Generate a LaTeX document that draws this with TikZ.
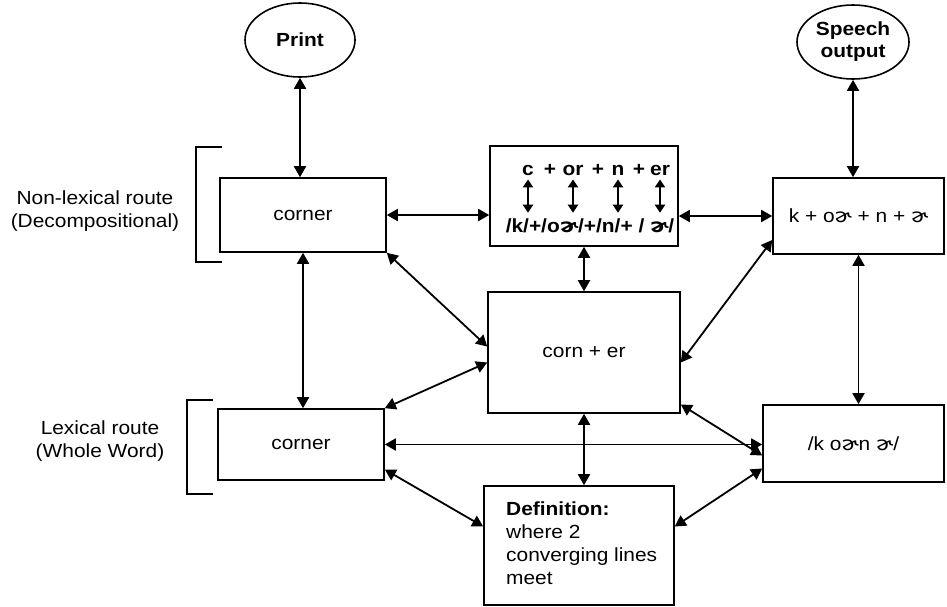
\documentclass[tikz,border=0pt]{standalone}
\usepackage{fontspec}
\setmainfont[FakeStretch=1.1]{Liberation Sans}
\newfontfamily\ipafont[FakeStretch=1.1]{DejaVu Sans}
\usetikzlibrary{arrows.meta,shapes.geometric,calc}
\newcommand\shwa{{\ipafont ɚ}}
\begin{document}
\begin{tikzpicture}[x=1pt,y=-1pt,
  font=\fontsize{19}{23}\selectfont,
  box/.style={draw,line width=1.6pt,inner sep=0pt},
  oval/.style={draw,ellipse,line width=1.6pt,inner sep=0pt,align=center,font=\fontsize{19}{22}\selectfont\bfseries},
  link/.style={line width=1.8pt,{Triangle[length=11pt,width=12pt]}-{Triangle[length=11pt,width=12pt]}},
  minilink/.style={line width=2.2pt,{Triangle[length=8pt,width=10pt]}-{Triangle[length=8pt,width=10pt]}},
  brk/.style={line width=1.6pt},
  lbl/.style={align=center,inner sep=0pt}
]
\useasboundingbox (0,0) rectangle (947,606);
% ellipses
\node[oval,minimum width=110pt,minimum height=74pt] (print) at (300,40) {Print};
\node[oval,minimum width=112pt,minimum height=74pt] (speech) at (853,42) {Speech\\output};
% boxes
\node[box,minimum width=166pt,minimum height=74pt] (cTop) at (303,215) {corner};
\node[box,minimum width=188pt,minimum height=100pt] (morph) at (584,196) {};
\node[box,minimum width=171pt,minimum height=76pt] (phonTop) at (858.5,216) {k + o\shwa{} + n + \shwa};
\node[box,minimum width=192pt,minimum height=121pt] (cornEr) at (584,352.5) {corn + er};
\node[box,minimum width=166pt,minimum height=71pt] (cBot) at (301,444.5) {corner};
\node[box,minimum width=181pt,minimum height=77pt] (phonBot) at (853.5,443.5) {/k o\shwa n \shwa/};
\node[box,minimum width=190pt,minimum height=119pt] (defn) at (579,545.5) {};
% morph box contents
\begin{scope}[every node/.style={inner sep=0pt,font=\fontsize{19}{23}\selectfont\bfseries}]
\node (m1) at (528,170) {c};
\node at (550,170) {+};
\node (m2) at (573,170) {or};
\node at (598,170) {+};
\node (m3) at (618,170) {n};
\node at (639,170) {+};
\node (m4) at (660,170) {er};
\node (t2) at (590,226) {/k/+/o\shwa/+/n/+ / \shwa/};
\end{scope}
\foreach \m in {m1,m2,m3,m4}
  \draw[minilink] ([yshift=-4pt]\m.south) -- ([yshift=6pt]\m.south |- t2.north);
% definition text
\node[anchor=north west,align=left,inner sep=0pt] (dtext) at (506,502)
  {\textbf{Definition:}\\where 2\\converging lines\\meet};
% side labels
\node[lbl] (nonlex) at (95,211) {Non-lexical route\\(Decompositional)};
\node[lbl] (lex) at (100,441) {Lexical route\\(Whole Word)};
% brackets
\draw[brk] (222,147) -- (196,147) -- (196,262) -- (222,262);
\draw[brk] (213,400) -- (187,400) -- (187,494) -- (213,494);
% connectors
\draw[link] (print.south) -- (print.south |- cTop.north);
\draw[link] (speech.south) -- (speech.south |- phonTop.north);
\draw[link] (cTop.east) -- (cTop.east -| morph.west);
\draw[link] (morph.east |- phonTop.west) -- (phonTop.west);
\draw[link] (morph.south) -- (cornEr.north);
\draw[link] (cTop.south) -- (cTop.south |- cBot.north);
\draw[link] (phonTop.south) -- (phonTop.south |- phonBot.north);
\draw[link] (cBot.east) -- (cBot.east -| phonBot.west);
\draw[link] (cornEr.south) -- (cornEr.south |- defn.north);
\draw[link] (cTop.south east) -- ([yshift=6pt]cornEr.west);
\draw[link] (cBot.north east) -- ([yshift=-10pt]cornEr.west);
\draw[link] ([yshift=-24pt]phonTop.west) -- ([yshift=-10pt]cornEr.east);
\draw[link] ([yshift=-52pt]cornEr.east) -- ([yshift=-12pt]phonBot.west);
\draw[link] ([yshift=-25pt]cBot.east) -- ([yshift=19pt]defn.west);
\draw[link] ([yshift=-25pt]phonBot.west) -- ([yshift=19pt]defn.east);
\end{tikzpicture}
\end{document}
